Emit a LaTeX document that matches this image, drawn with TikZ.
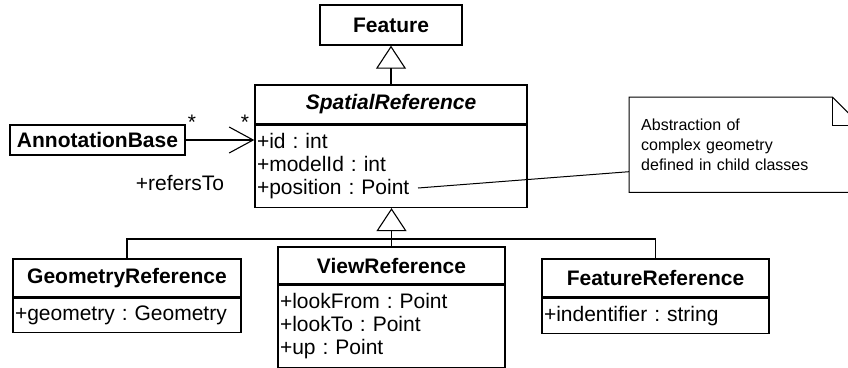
\documentclass[tikz,border=0pt]{standalone}
\usepackage{fontspec}
\setmainfont{Liberation Sans}
\usetikzlibrary{positioning,arrows.meta}
\frenchspacing

\begin{document}
\begin{tikzpicture}[x=1pt,y=-1pt,
font=\fontsize{21}{23}\selectfont,
classname/.style={draw=black, line width=1.4pt, inner sep=0pt, font=\fontsize{21}{23}\selectfont\bfseries},
attrs/.style={draw=black, line width=1.4pt, inner xsep=2pt, inner ysep=0pt, align=left},
generalize/.style={-{Triangle[open, length=23pt, width=30pt]}, line width=1.1pt},
refers/.style={-{Straight Barb[length=24pt, width=26pt]}, line width=1.1pt},
notebox/.style={inner xsep=12pt, inner ysep=0pt, align=left, font=\fontsize{16}{20}\selectfont}
]
\useasboundingbox (0,0) rectangle (848,367);

% classes
\node[classname, minimum width=142pt, minimum height=40pt] (feature) at (391,25) {Feature};
\node[classname, minimum width=272pt, minimum height=39pt] (spatialname) at (391,104.5) {\itshape SpatialReference};
\node[attrs, text width=268pt, minimum height=82pt, below=0pt of spatialname] (spatialattrs) {
    +id : int\\
    +modelId : int\\
    +position : Point
};
\node[classname, minimum width=175pt, minimum height=30pt] (annotation) at (97.5,140) {AnnotationBase};

\node[classname, minimum width=228pt, minimum height=38pt] (geomname) at (127,278) {GeometryReference};
\node[attrs, text width=224pt, minimum height=34pt, below=0pt of geomname] (geomattrs) {+geometry : Geometry};
\node[classname, minimum width=227pt, minimum height=37pt] (viewname) at (391.5,265.5) {ViewReference};
\node[attrs, text width=223pt, minimum height=82pt, below=0pt of viewname] (viewattrs) {
    +lookFrom : Point\\
    +lookTo : Point\\
    +up : Point
};
\node[classname, minimum width=227pt, minimum height=38pt] (featname) at (655.5,278) {FeatureReference};
\node[attrs, text width=223pt, minimum height=35pt, below=0pt of featname] (featattrs) {+indentifier : string};

% note
\node[notebox, text width=207pt, minimum height=95pt, anchor=north west] (note) at (629,97) {
    Abstraction of\\
    complex geometry\\
    defined in child classes
};
\draw[line width=1pt] (note.south west) -- (note.north west) -- ([xshift=-28pt]note.north east)
    -- ([yshift=-28pt]note.north east) -- (note.south east) -- cycle;
\draw[line width=1pt] ([xshift=-28pt]note.north east) -- ([xshift=-28pt,yshift=-28pt]note.north east)
    -- ([yshift=-28pt]note.north east);
\coordinate (positionend) at (418,188);
\draw[line width=1pt] (positionend) -- ([yshift=-27pt]note.west);

% inheritance
\draw[generalize] (spatialname.north) -- (feature.south);
\coordinate (bus) at (391,239);
\draw[generalize] (viewname.north) -- (viewname.north |- spatialattrs.south);
\draw[line width=1.1pt] (geomname.north) |- (bus) -| (featname.north);

% association
\draw[refers] (annotation.east) -- (annotation.east -| spatialattrs.west);
\node (multsource) at (192,122.5) {*};
\node (multtarget) at (245,122.5) {*};
\node (rolename) at (180,183) {+refersTo};
\end{tikzpicture}
\end{document}
